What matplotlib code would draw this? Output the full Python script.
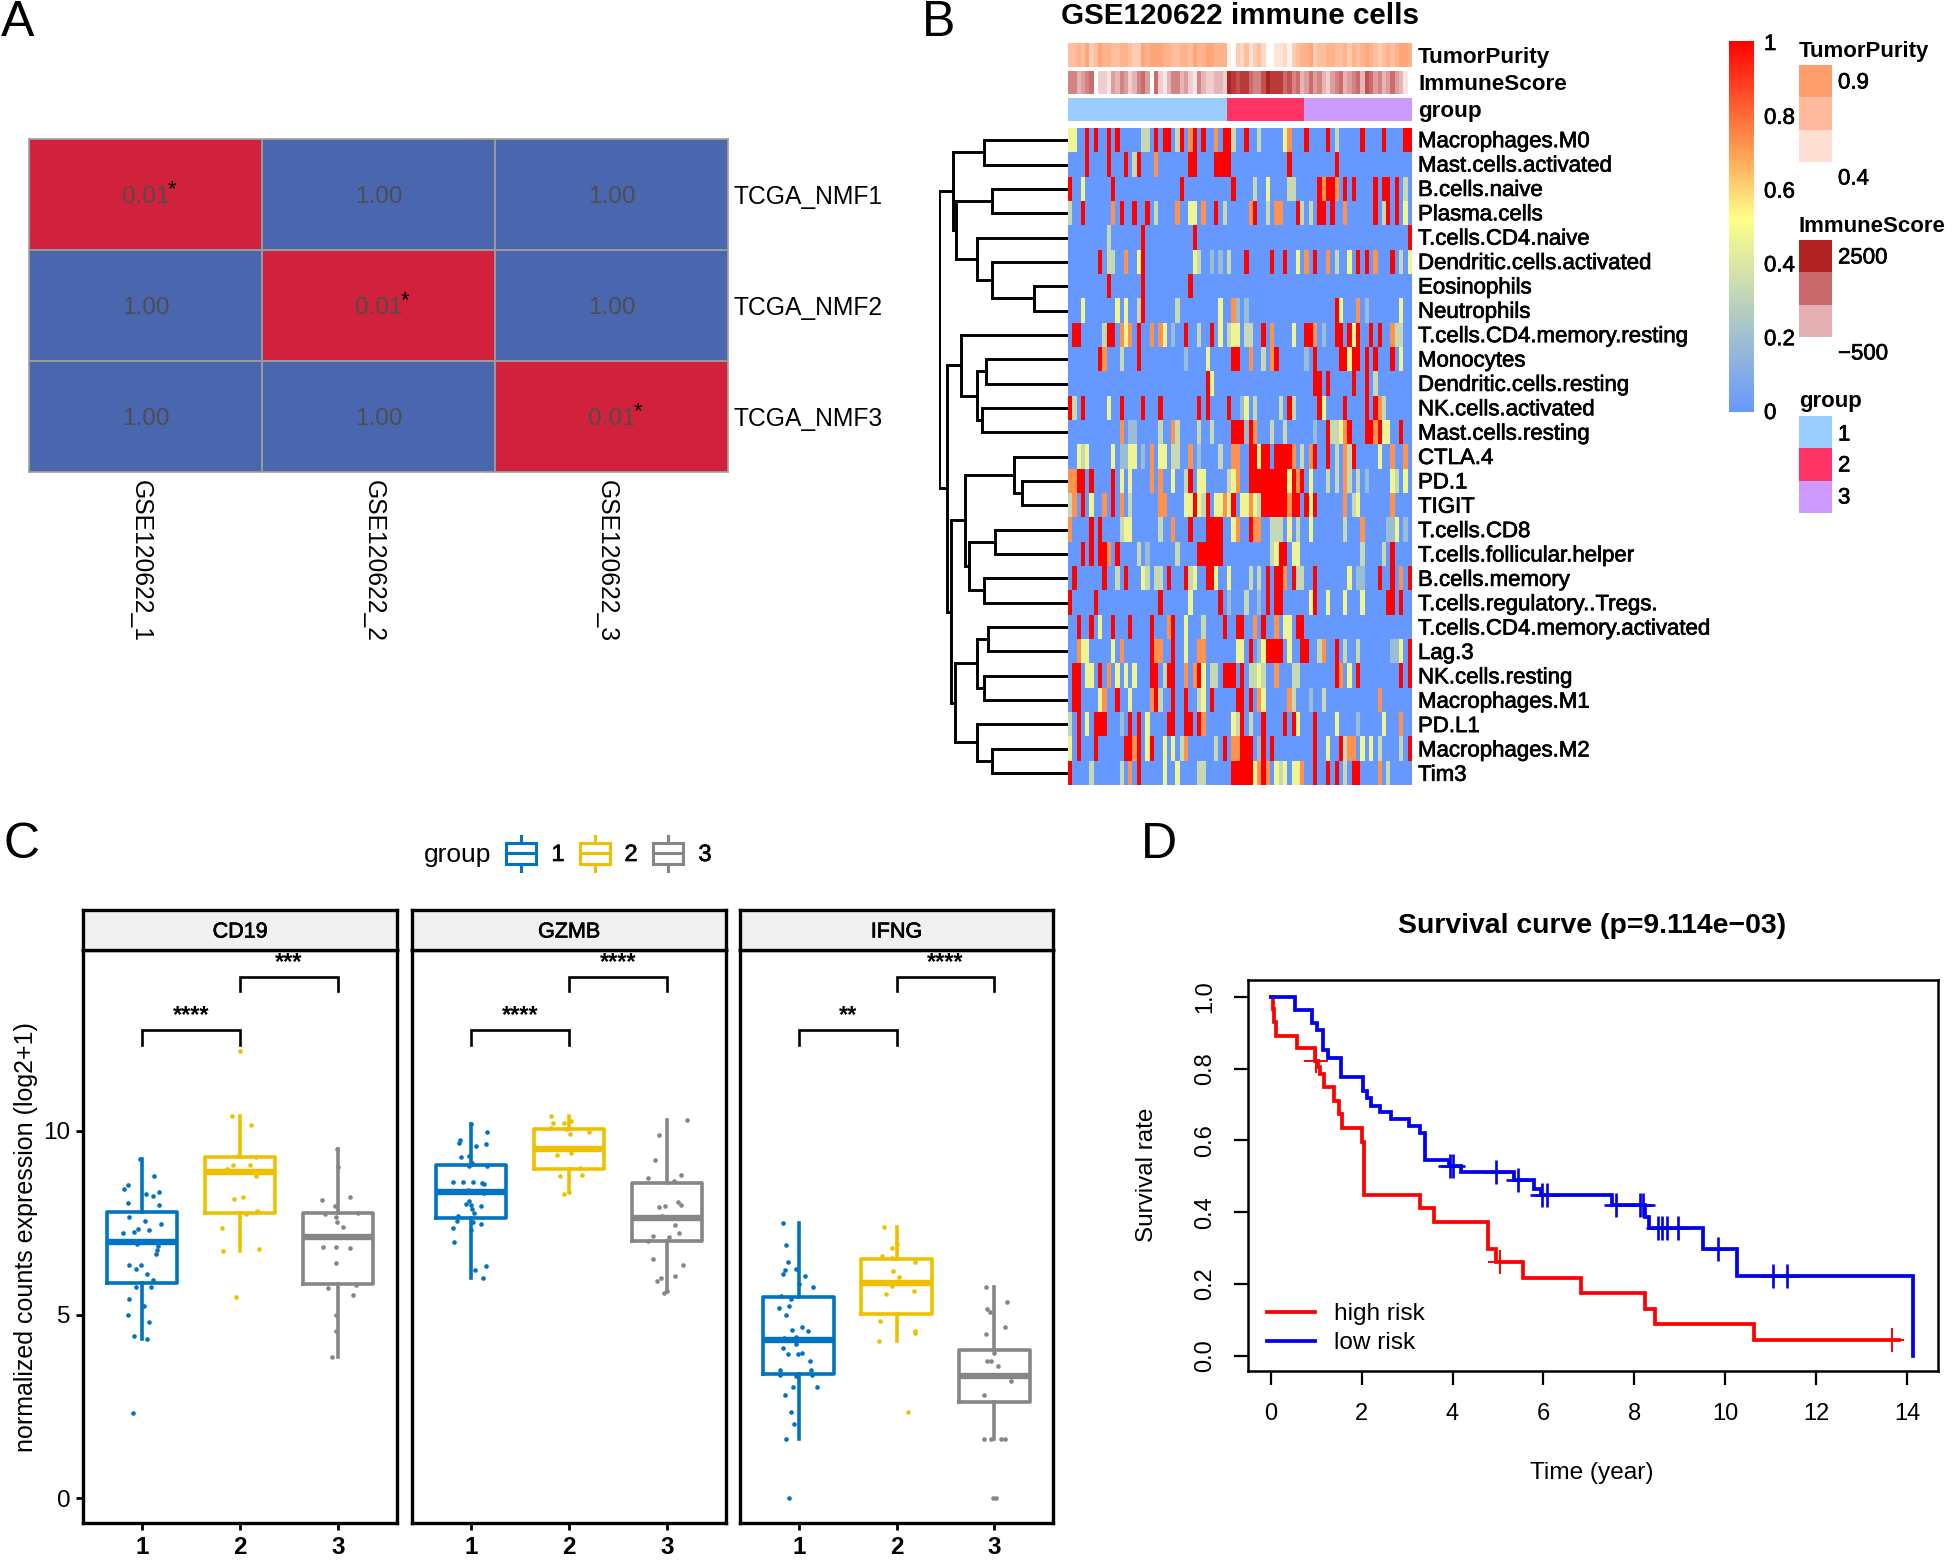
"""Four panel immune figure: submap table, heatmap, boxplots, survival curve."""

import numpy as np
import matplotlib
matplotlib.use("Agg")
import matplotlib.pyplot as plt
import matplotlib.patheffects as pe
from matplotlib.colors import LinearSegmentedColormap, ListedColormap
from matplotlib.patches import Rectangle

plt.rcParams["font.family"] = ["Liberation Sans", "DejaVu Sans"]

W, H = 1952, 1560

# Panel A
SUBMAP_ROWS = ["TCGA_NMF1", "TCGA_NMF2", "TCGA_NMF3"]
SUBMAP_COLS = ["GSE120622_1", "GSE120622_2", "GSE120622_3"]
SUBMAP_P = [[0.01, 1.00, 1.00], [1.00, 0.01, 1.00], [1.00, 1.00, 0.01]]

# Panel B
HEAT_LABELS = [
    "Macrophages.M0", "Mast.cells.activated", "B.cells.naive", "Plasma.cells",
    "T.cells.CD4.naive", "Dendritic.cells.activated", "Eosinophils", "Neutrophils",
    "T.cells.CD4.memory.resting", "Monocytes", "Dendritic.cells.resting",
    "NK.cells.activated", "Mast.cells.resting", "CTLA.4", "PD.1", "TIGIT",
    "T.cells.CD8", "T.cells.follicular.helper", "B.cells.memory",
    "T.cells.regulatory..Tregs.", "T.cells.CD4.memory.activated", "Lag.3",
    "NK.cells.resting", "Macrophages.M1", "PD.L1", "Macrophages.M2", "Tim3",
]
LEVELS = {"r": 1.0, "o": 0.72, "y": 0.47, "g": 0.33, "l": 0.18}
# non-blue cells per row, level letter then column numbers
HEAT_CELLS = [
    "r 4 6 9 11 20 22 23 26 29 31 36 37 41 55 60 68 73 78 79; y 0 1 50; o 28 34 51; g 17 18 25 38 44 62",
    "r 4 9 13 16 28 29 34 35 36 37 51 62; o 20; g 15",
    "r 0 10 26 38 58 60 61 64 66 71 73 74 76; y 3 46; o 59 62; g 43 51 52 78",
    "r 3 12 15 18 34 43 53 58 59 61 71 74 76; o 10 25 31 42 48 49 64; y 28 29 78; g 0 20 36 46 54 56 73",
    "r 17 29 79; g 9",
    "r 7 17 41 47 50 57 67 69 75; o 13 55 60 71; y 16 29 53 65 79; g 9 10 30 37 62 77; l 33 35",
    "r 9 17 28",
    "r 17 62; y 3 11 13 35 63 77; g 16 25; o 38 67; l 39 41 69",
    "r 1 2 9 10 16 27 33 45 55 56 62 63 65 67 70 72; o 12 14 19 21 47 57 75; y 13 22 35 38 39 52 66; g 8 30 37 41 42 76 77; l 24 59",
    "r 7 16 38 39 48 57 63 64 66 67 69 71 75; o 8 42 47; y 32 65 77; g 12 45; l 27 55",
    "r 32 57 58 60 66 69; y 33; g 71",
    "r 0 3 12 17 21 30 32 37 51 58 64 69 71; o 72; y 9 41 59; g 1 43 49 52 73; l 40",
    "r 38 39 40 42 60 65 69 70 72 77; o 12 24 43 64 71; y 63 73 74; g 21 25 30 33 47 50 61 62; l 14 15 41 57",
    "r 42 43 45 46 48 49 50 51 57 60 66; o 19 28 38 39 52 56 64 75 78; y 2 4 10 14 15 21 22 44 72; g 3 24 25 35 54 62 65; l 12 13 17 30",
    "r 2 3 5 10 28 42 43 44 45 46 47 48 49 50 52 54; o 0 1 19 21 39 53 64; y 12 14 24 30 31 38 51 56 75 78; g 27 37 60 62 65 67 76; l 69",
    "r 3 10 29 32 38 45 46 47 48 49 50 52 53 55 57; o 1 8 12 21 22 36 42 51 64 75; y 5 27 28 30 34 35 37 40 41 43 56 67; g 0 14 31 44 66",
    "r 5 7 28 32 33 34 35 42; o 0 24 39 43 44 68; y 13 14 38 51 56 76; g 12 21 47 48 49 53 64; l 74 75 78",
    "r 3 5 7 8 11 30 31 32 33 34 35 49 50 75; o 9; y 48 52 53; g 16 25 47 68 73; l 18",
    "r 1 8 13 23 27 32 33 46 48 49 52 57 72 75 79; o 50 77; y 17 29 34 37 65; g 11 18 20 21 28 42 44 53 54; l 67 68",
    "r 0 6 21 35 46 48 49 57 74 75 77; y 28 56 60 64 68; g 41; l 37 44",
    "r 2 5 10 14 19 24 36 39 40 45 53 54; o 23 43 48; y 7 27 50 51; g 31",
    "r 19 24 42 46 47 48 49 54 55 62 79; o 2 12 20 21 30 31 59; y 3 4 10 27 39 40 45 51 77; g 58 64 67; l 44 75 76",
    "r 1 2 7 19 20 23 24 30 36 37 38 40 62 67 77 79; o 9 27 29 48 63; y 4 5 11 13 15 31 44 65; g 22 33 34 42 43 45 52 53",
    "r 1 2 11 20 24 27 33 39 40 42; o 8 19 44 51 72; y 7 14 31 45; g 21 30 52 59; l 56",
    "r 2 6 7 8 14 16 23 24 27 28 30 40 45 50 52 57; o 31 77; y 4 18 38 53 62 73; g 0 39 42; l 12 67",
    "r 2 6 13 14 16 19 36 40 41 42 45 47 57 63 79; o 15 27 38 39 65 66; y 0 18 22 24 60 68 70; g 26 34 64 72 77; l 44",
    "r 0 16 38 39 40 41 42 45 57 60 62 66 67; o 14 44 46 54 72; y 22 25 43 48 50 52 53; g 5 12 30 31 49 64 74",
]
# digit strings, one digit per sample: 0 pale, 9 strong
PURITY_LEVELS = "5565745766556654476777665566576677666" + "1043524530022314" + "566745566556465676545656776"
IMMUNE_LEVELS = "5534560221435423564062135534215322332" + "9878865579888675" + "634645324563456376453464310"
GROUP_COUNTS = [37, 18, 25]
COLORBAR_TICKS = [0, 0.2, 0.4, 0.6, 0.8, 1]

# merges as (height, left, right), leaves are row numbers
DENDRO = (386,
    (344, (252, 0, 1),
          (336, (229, 2, 3), (274, 4, (229, 5, (102, 6, 7))))),
    (364, (321, 8, (274, (246, 9, 10), (259, 11, 12))),
          (352, (309, (162, 13, (139, 14, 15)),
                     (296, (219, 16, 17), (252, 18, 19))),
                (339, (272, (239, 20, 21), (252, 22, 23)),
                      (274, 24, (229, 25, 26))))))

# Panel C
GENES = ["CD19", "GZMB", "IFNG"]
GROUPS = [1, 2, 3]
# each box: whisker low, q1, median, q3, whisker high
CD19_BOXES = [[4.33, 5.85, 6.97, 7.78, 9.23], [6.73, 7.76, 8.87, 9.30, 10.42], [3.83, 5.82, 7.11, 7.76, 9.52]]
GZMB_BOXES = [[5.99, 7.62, 8.35, 9.08, 10.20], [8.33, 8.96, 9.52, 10.06, 10.42], [5.63, 6.99, 7.62, 8.58, 10.30]]
IFNG_BOXES = [[1.61, 3.39, 4.31, 5.48, 7.50], [4.28, 5.02, 5.85, 6.50, 7.39], [1.61, 2.61, 3.33, 4.02, 5.75]]

CD19_G1_Y = [9.23, 8.76, 8.52, 8.41, 8.29, 8.24, 8.33, 8.05, 7.97, 7.66, 7.54, 7.47, 7.34, 7.26, 7.22, 7.31, 7.00, 6.92, 6.86, 6.76, 6.66, 6.34, 6.25, 6.34, 6.11, 5.93, 5.76, 5.76, 5.42, 5.24, 4.99, 4.80, 4.41, 4.33, 2.31]
CD19_G1_DX = [-.02, .12, -.14, -.18, .04, .11, .17, -.14, .17, -.13, .03, .19, -.04, -.08, -.19, .07, .05, -.05, .16, .15, .14, -.13, -.06, -.01, .05, .11, -.06, .09, -.13, .02, -.14, .07, -.08, .05, -.09]
CD19_G2_Y = [12.18, 10.42, 10.16, 9.33, 9.29, 9.07, 9.07, 8.96, 8.77, 8.15, 8.20, 7.81, 7.73, 7.36, 6.73, 6.79, 5.48]
CD19_G2_DX = [0, -.08, .11, -.02, .16, -.07, .10, -.13, .16, -.06, .03, .17, .06, -.18, -.17, .19, -.04]
CD19_G3_Y = [9.52, 9.02, 8.13, 8.21, 7.95, 7.75, 7.77, 7.66, 7.52, 7.39, 7.15, 6.85, 6.85, 6.82, 6.39, 5.73, 5.81, 5.53, 5.00, 4.54, 3.83]
CD19_G3_DX = [-.01, 0, -.16, .12, -.03, -.13, .20, -.02, -.01, .05, -.01, -.15, -.02, .12, -.02, -.10, .18, .15, -.02, -.02, -.06]

GZMB_G1_Y = [10.2, 9.96, 9.76, 9.66, 9.58, 9.64, 9.30, 9.32, 9.12, 9.04, 9.05, 8.60, 8.61, 8.61, 8.58, 8.55, 8.40, 8.31, 8.10, 8.02, 7.95, 7.98, 7.88, 7.77, 7.68, 7.54, 7.53, 7.47, 7.35, 7.29, 6.98, 6.31, 6.22, 5.99]
GZMB_G1_DX = [0, .16, -.11, -.12, .05, .15, -.10, -.02, .01, -.02, .16, -.18, -.08, .02, .11, .13, -.03, .13, -.02, -.05, .10, 0, .01, .03, -.13, -.14, .02, .10, -.18, 0, -.17, .15, .04, .12]
GZMB_G2_Y = [10.42, 10.22, 10.22, 10.28, 10.09, 10.04, 9.92, 9.98, 9.34, 9.41, 9.00, 8.78, 8.80, 8.33, 8.27]
GZMB_G2_DX = [-.18, -.16, -.05, .02, -.18, -.03, .01, .20, -.12, .02, .11, -.09, .13, 0, -.05]
GZMB_G3_Y = [10.3, 9.9, 9.21, 8.8, 8.72, 8.63, 8.06, 7.99, 7.94, 7.95, 7.67, 7.45, 7.21, 7.15, 7.11, 6.99, 6.52, 6.35, 6.06, 5.99, 5.92, 5.63, 5.59]
GZMB_G3_DX = [.20, -.08, -.12, .14, -.20, .07, .11, .14, -.08, -.02, -.05, .08, .12, -.14, .02, -.19, -.14, .16, .08, -.06, -.10, 0, -.03]

IFNG_G1_Y = [7.5, 6.9, 6.42, 6.24, 6.21, 6.11, 6.05, 5.83, 5.75, 5.5, 5.42, 5.23, 5.18, 4.98, 4.59, 4.66, 4.55, 4.36, 4.39, 4.3, 4.19, 4.1, 3.93, 3.92, 3.95, 3.72, 3.48, 3.48, 3.34, 3.34, 3.33, 3.02, 3.03, 2.81, 2.35, 2.02, 1.61, 0.01]
IFNG_G1_DX = [-.16, -.13, -.11, -.03, -.14, -.16, .06, 0, .15, -.18, -.08, -.10, -.20, -.13, -.07, .03, .10, -.15, -.03, -.03, -.03, -.16, -.11, -.01, .03, .12, -.19, .13, -.19, .14, -.03, -.06, .19, -.14, -.08, -.05, -.13, -.10]
IFNG_G2_Y = [7.39, 6.91, 6.82, 6.6, 6.53, 6.43, 6.19, 6.03, 5.79, 5.64, 5.57, 4.83, 4.55, 4.49, 4.28, 2.35]
IFNG_G2_DX = [-.13, 0, -.05, -.15, -.05, .19, -.04, .03, -.05, .18, -.11, -.17, .19, .19, -.18, .12]
IFNG_G3_Y = [5.75, 5.35, 5.14, 5.06, 4.65, 4.48, 3.94, 3.73, 3.73, 3.61, 3.19, 2.82, 1.61, 1.60, 1.61, 1.61, 0.01, 0.01]
IFNG_G3_DX = [-.09, .13, -.07, -.04, .11, -.08, 0, -.07, -.03, .04, .17, -.11, -.11, -.03, .07, .11, -.01, .02]

BOXES = [CD19_BOXES, GZMB_BOXES, IFNG_BOXES]
POINTS = [
    [(CD19_G1_Y, CD19_G1_DX), (CD19_G2_Y, CD19_G2_DX), (CD19_G3_Y, CD19_G3_DX)],
    [(GZMB_G1_Y, GZMB_G1_DX), (GZMB_G2_Y, GZMB_G2_DX), (GZMB_G3_Y, GZMB_G3_DX)],
    [(IFNG_G1_Y, IFNG_G1_DX), (IFNG_G2_Y, IFNG_G2_DX), (IFNG_G3_Y, IFNG_G3_DX)],
]
# brackets: group a, group b, height, stars
BRACKETS = [
    [(1, 2, 12.75, "****"), (2, 3, 14.2, "***")],
    [(1, 2, 12.75, "****"), (2, 3, 14.2, "****")],
    [(1, 2, 12.75, "**"), (2, 3, 14.2, "****")],
]

# Panel D
HIGH_T = [0, 0.05, 0.07, 0.12, 0.58, 0.98, 1.05, 1.08, 1.18, 1.40, 1.50, 1.56, 2.00, 2.06, 3.28, 3.60, 4.79, 4.96, 5.56, 6.83, 8.23, 8.46, 10.63, 13.82]
HIGH_S = [1, 0.965, 0.93, 0.892, 0.857, 0.822, 0.806, 0.785, 0.748, 0.711, 0.673, 0.636, 0.597, 0.448, 0.411, 0.372, 0.298, 0.262, 0.217, 0.175, 0.131, 0.088, 0.044, 0.044]
HIGH_CENSOR = [1.0, 5.05, 13.66]
LOW_T = [0, 0.54, 0.90, 1.02, 1.15, 1.27, 1.55, 2.02, 2.12, 2.20, 2.40, 2.65, 3.05, 3.28, 3.40, 3.92, 4.18, 5.35, 5.80, 5.95, 7.50, 8.23, 8.33, 9.50, 10.25, 14.12]
LOW_S = [1, 0.963, 0.927, 0.907, 0.851, 0.831, 0.776, 0.739, 0.719, 0.697, 0.68, 0.661, 0.641, 0.621, 0.546, 0.529, 0.511, 0.489, 0.466, 0.447, 0.42, 0.387, 0.357, 0.298, 0.222, 0]
LOW_CENSOR = [3.95, 4.02, 4.95, 5.45, 5.97, 6.07, 7.6, 8.12, 8.2, 8.52, 8.6, 8.72, 8.95, 9.85, 11.05, 11.35]

BOX_COLORS = ["#0073C2", "#EFC000", "#868686"]
GROUP_COLORS = ["#99CCFF", "#FF3366", "#CC99FF"]
PURITY_COLORS = ["#FF9D6C", "#FFB99D", "#FFDFD1"]
IMMUNE_COLORS = ["#B22222", "#C9686A", "#E4B0B3"]
HEAT_CMAP = LinearSegmentedColormap.from_list("heat", [(0, "#6699FF"), (0.52, "#FFFF88"), (1, "#FF0000")])
THIN_BOLD = [pe.withStroke(linewidth=0.5, foreground="black")]


def pixel_axes(fig, left, top, right, bottom, **kwargs):
    """Axes placed by reference pixel box."""
    return fig.add_axes([left / W, 1 - bottom / H, (right - left) / W, (bottom - top) / H], **kwargs)


def draw_submap(fig, canvas):
    ax = pixel_axes(fig, 29, 139, 728, 472)
    values = np.array(SUBMAP_P)
    ax.pcolormesh(values, cmap=ListedColormap(["#D2213C", "#4A66AE"]), vmin=0, vmax=1,
                  edgecolors="#999999", linewidth=1.1)
    ax.set_ylim(3, 0)
    ax.set_xticks([])
    ax.set_yticks([])
    for side in ax.spines.values():
        side.set_color("#999999")
        side.set_linewidth(1.1)
    for r, row in enumerate(SUBMAP_P):
        for c, p in enumerate(row):
            ax.annotate(f"{p:.2f}", (c + 0.5, r + 0.5), xytext=(0, -1.5), textcoords="offset points",
                        ha="center", va="center", fontsize=17.5, color="#4D4D4D")
            if p < 0.05:
                ax.annotate("*", (c + 0.5, r + 0.5), xytext=(19, 3.5), textcoords="offset points",
                            ha="center", va="center", fontsize=16, color="black")
    for r, name in enumerate(SUBMAP_ROWS):
        canvas.text(733, 141.5 + 111 * (r + 0.5), name, ha="left", va="center", fontsize=17.7)
    for c, name in enumerate(SUBMAP_COLS):
        canvas.text(24 + 233 * (c + 0.5), 480, name, rotation=270, ha="center", va="top", fontsize=17.7)


def draw_tree(ax, node):
    """Returns (height, y) of a node after drawing it."""
    if not isinstance(node, tuple):
        return 0, node
    height, left, right = node
    h1, y1 = draw_tree(ax, left)
    h2, y2 = draw_tree(ax, right)
    ax.plot([h1, height, height, h2], [y1, y1, y2, y2], color="black", lw=2.1, solid_joinstyle="miter")
    return height, (y1 + y2) / 2


def parse_cells(rows, n_cols):
    grid = np.zeros((len(rows), n_cols))
    for r, row in enumerate(rows):
        for part in row.split(";"):
            tokens = part.split()
            for col in tokens[1:]:
                grid[r, int(col)] = LEVELS[tokens[0]]
    return grid


def draw_heatmap(fig, canvas):
    n_cols = sum(GROUP_COUNTS)
    left, right = 1068, 1412
    grid = parse_cells(HEAT_CELLS, n_cols)

    ax = pixel_axes(fig, left, 128, right, 785)
    ax.imshow(grid, cmap=HEAT_CMAP, vmin=0, vmax=1, aspect="auto", interpolation="nearest")
    ax.axis("off")

    tree = pixel_axes(fig, 939, 128, left, 785)
    draw_tree(tree, DENDRO)
    tree.set_xlim(387, 0)
    tree.set_ylim(len(HEAT_LABELS) - 0.5, -0.5)
    tree.axis("off")

    purity = LinearSegmentedColormap.from_list("purity", ["#FFFFFF", "#FF9966"])
    immune = LinearSegmentedColormap.from_list("immune", ["#FFFFFF", "#B22222"])
    purity_row = np.array([int(d) for d in PURITY_LEVELS])[None, :]
    immune_row = np.array([int(d) for d in IMMUNE_LEVELS])[None, :]
    group_row = np.repeat(range(len(GROUP_COUNTS)), GROUP_COUNTS)[None, :]
    strips = [(43, 67, purity_row, purity, 0, 8, "TumorPurity"),
              (71, 94, immune_row, immune, 0, 9, "ImmuneScore"),
              (98, 121, group_row, ListedColormap(GROUP_COLORS), 0, 2, "group")]
    for top, bottom, row, cmap, lo, hi, name in strips:
        a = pixel_axes(fig, left, top, right, bottom)
        a.imshow(row, cmap=cmap, vmin=lo, vmax=hi, aspect="auto", interpolation="nearest")
        a.axis("off")
        canvas.text(1418, (top + bottom) / 2 + 2.5, name, ha="left", va="center", fontsize=16.2, fontweight="bold")

    row_h = (785 - 127) / len(HEAT_LABELS)
    for r, name in enumerate(HEAT_LABELS):
        canvas.text(1418, 129.5 + row_h * (r + 0.5), name, ha="left", va="center", fontsize=16,
                    path_effects=THIN_BOLD)

    canvas.text(1240, 16, "GSE120622 immune cells", ha="center", va="center", fontsize=21.3, fontweight="bold")

    # colour bar
    bar = pixel_axes(fig, 1729, 41, 1754, 412)
    bar.imshow(np.linspace(1, 0, 256)[:, None], cmap=HEAT_CMAP, vmin=0, vmax=1, aspect="auto")
    bar.axis("off")
    for tick in COLORBAR_TICKS:
        canvas.text(1764, 413.5 - 369 * tick, f"{tick:g}", ha="left", va="center", fontsize=16, path_effects=THIN_BOLD)

    # annotation legends
    legends = [("TumorPurity", 51, 65, PURITY_COLORS, [("0.9", 83), ("0.4", 179)]),
               ("ImmuneScore", 226, 240, IMMUNE_COLORS, [("2500", 258), ("\u2212500", 354)]),
               ("group", 402, 416, GROUP_COLORS, [("1", 435), ("2", 466), ("3", 498)])]
    for title, title_y, top, colors, labels in legends:
        canvas.text(1799, title_y, title, ha="left", va="center", fontsize=16, fontweight="bold")
        for i, color in enumerate(colors):
            canvas.add_patch(Rectangle((1799, top + 32.3 * i), 33, 32.3, color=color, lw=0))
        for text, y in labels:
            canvas.text(1838, y, text, ha="left", va="center", fontsize=16, path_effects=THIN_BOLD)


def draw_boxes(fig, canvas):
    panels = [(83, 397), (412, 726), (740, 1053)]
    for i, (left, right) in enumerate(panels):
        ax = pixel_axes(fig, left, 950, right, 1523)
        for g, group in enumerate(GROUPS):
            low, q1, med, q3, high = BOXES[i][g]
            stats = [dict(med=med, q1=q1, q3=q3, whislo=low, whishi=high, fliers=[])]
            color = BOX_COLORS[g]
            ax.bxp(stats, positions=[group], widths=0.72, showcaps=False, showfliers=False,
                   boxprops=dict(color=color, lw=2.6), whiskerprops=dict(color=color, lw=2.6),
                   medianprops=dict(color=color, lw=4.6, solid_capstyle="butt"))
            ys, dxs = POINTS[i][g]
            ax.scatter(group + np.array(dxs), ys, s=11, color=color, linewidths=0, zorder=4)
        for a, b, y, stars in BRACKETS[i]:
            ax.plot([a, a, b, b], [y - 0.4, y, y, y - 0.4], color="black", lw=1.9, solid_joinstyle="miter")
            ax.text((a + b) / 2, y + 0.4, stars, ha="center", va="center", fontsize=17, fontweight="bold")
        ax.set_xlim(0.4, 3.6)
        ax.set_ylim(-0.68, 14.93)
        ax.set_xticks(GROUPS)
        ax.set_xticklabels(GROUPS, fontsize=17.5, fontweight="bold")
        ax.set_yticks([0, 5, 10] if i == 0 else [])
        ax.tick_params(length=5, width=2, labelsize=17.5, pad=4)
        for side in ax.spines.values():
            side.set_linewidth(2.4)

        strip = pixel_axes(fig, left, 910, right, 950)
        strip.set_facecolor("#F0F0F0")
        strip.set_xticks([])
        strip.set_yticks([])
        for side in strip.spines.values():
            side.set_linewidth(2.4)
        strip.text(0.5, 0.45, GENES[i], transform=strip.transAxes, ha="center", va="center", fontsize=15.5,
                   path_effects=THIN_BOLD)

    canvas.text(26, 1237, "normalized counts expression (log2+1)", rotation=90, ha="center", va="center",
                fontsize=18)
    canvas.text(458, 855, "group", ha="center", va="center", fontsize=19)
    for key_left, color, label, label_x in zip((506, 580, 653), BOX_COLORS, GROUPS, (558, 631, 705)):
        canvas.add_patch(Rectangle((key_left, 843), 30, 21, fill=False, edgecolor=color, lw=2.2))
        mid = key_left + 15
        canvas.plot([key_left, key_left + 30], [853, 853], color=color, lw=2.2)
        canvas.plot([mid, mid], [836, 843], color=color, lw=2.2)
        canvas.plot([mid, mid], [864, 871], color=color, lw=2.2)
        canvas.text(label_x, 855, str(label), ha="center", va="center", fontsize=17, path_effects=THIN_BOLD)


def step_value(times, surv, t):
    return surv[np.searchsorted(times, t, side="right") - 1]


def draw_survival(fig, canvas):
    ax = pixel_axes(fig, 1248, 980, 1938, 1371)
    curves = [(HIGH_T, HIGH_S, HIGH_CENSOR, "red", 1.4), (LOW_T, LOW_S, LOW_CENSOR, "#0000EE", 1.9)]
    for times, surv, censor, color, mark_width in curves:
        ax.step(times, surv, where="post", color=color, lw=2.7, solid_joinstyle="miter")
        ax.plot(censor, [step_value(times, surv, t) for t in censor], "+", color=color,
                ms=17, mew=mark_width, linestyle="none")
    ax.set_xlim(-0.5, 14.68)
    ax.set_ylim(-0.042, 1.047)
    ax.set_xticks(range(0, 15, 2))
    ax.set_yticks([0, 0.2, 0.4, 0.6, 0.8, 1.0])
    ax.set_yticklabels(["0.0", "0.2", "0.4", "0.6", "0.8", "1.0"], rotation=90, va="center")
    ax.tick_params(length=10, width=1.6, labelsize=17, pad=13)
    for side in ax.spines.values():
        side.set_linewidth(1.8)
    canvas.text(1592, 926, "Survival curve (p=9.114e\u221203)", ha="center", va="center", fontsize=20.4,
                fontweight="bold")
    canvas.text(1592, 1473, "Time (year)", ha="center", va="center", fontsize=17.6)
    canvas.text(1147, 1175, "Survival rate", rotation=90, ha="center", va="center", fontsize=17.5)
    for y, label, color in [(1312, "high risk", "red"), (1341, "low risk", "#0000EE")]:
        canvas.plot([1267, 1315], [y, y], color=color, lw=2.7)
        canvas.text(1334, y + 2, label, ha="left", va="center", fontsize=17.6)


def main():
    fig = plt.figure(figsize=(W / 100, H / 100), dpi=100)

    canvas = fig.add_axes([0, 0, 1, 1], zorder=10)
    canvas.set_xlim(0, W)
    canvas.set_ylim(H, 0)
    canvas.axis("off")
    canvas.patch.set_alpha(0)

    draw_submap(fig, canvas)
    draw_heatmap(fig, canvas)
    draw_boxes(fig, canvas)
    draw_survival(fig, canvas)

    for letter, x, y in [("A", 1, 23), ("B", 922, 23), ("C", 3, 845), ("D", 1141, 845)]:
        canvas.text(x, y, letter, ha="left", va="center", fontsize=36)

    fig.savefig("out.png", dpi=100)


if __name__ == "__main__":
    main()
